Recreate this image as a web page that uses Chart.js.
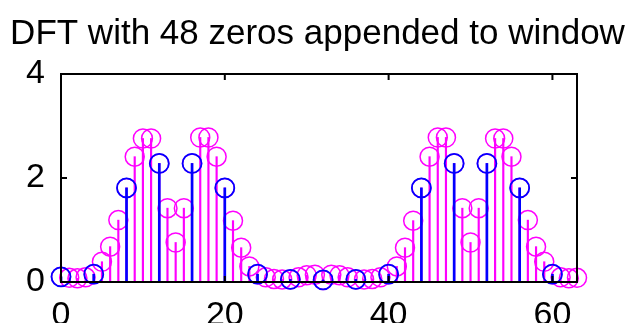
<!DOCTYPE html>
<html>
<head>
<meta charset="utf-8">
<script src="https://cdn.jsdelivr.net/npm/chart.js@4/dist/chart.umd.min.js"></script>
<style>
  html, body { margin: 0; padding: 0; background: #fff; }
  #grafico { display: block; }
</style>
</head>
<body>
<canvas id="grafico" width="635" height="323"></canvas>
<script>
// ==========================================
// DADOS
// ==========================================
const tituloGrafico = "DFT with 48 zeros appended to window";

// 16-point DFT (blue), every 4th bin
const indices16 = [0, 4, 8, 12, 16, 20, 24, 28, 32, 36, 40, 44, 48, 52, 56, 60];
const valores16 = [0.10, 0.15, 1.81, 2.28, 2.28, 1.81, 0.15, 0.05, 0.04, 0.05, 0.15, 1.81, 2.28, 2.28, 1.81, 0.15];

// 64-point DFT (magenta)
const indices64 = [
    0, 1, 2, 3, 4, 5, 6, 7, 8, 9, 10, 11, 12, 13, 14, 15,
    16, 17, 18, 19, 20, 21, 22, 23, 24, 25, 26, 27, 28, 29, 30, 31,
    32, 33, 34, 35, 36, 37, 38, 39, 40, 41, 42, 43, 44, 45, 46, 47,
    48, 49, 50, 51, 52, 53, 54, 55, 56, 57, 58, 59, 60, 61, 62, 63
];
const valores64 = [
    0.10, 0.08, 0.07, 0.09, 0.15, 0.39, 0.68, 1.19, 1.81, 2.41, 2.76, 2.76, 2.28, 1.42, 0.76, 1.42,
    2.28, 2.78, 2.78, 2.41, 1.81, 1.18, 0.66, 0.30, 0.15, 0.09, 0.06, 0.05, 0.05, 0.09, 0.13, 0.14,
    0.04, 0.14, 0.13, 0.09, 0.05, 0.05, 0.06, 0.09, 0.15, 0.30, 0.66, 1.18, 1.81, 2.41, 2.78, 2.78,
    2.28, 1.42, 0.76, 1.42, 2.28, 2.76, 2.76, 2.41, 1.81, 1.19, 0.68, 0.39, 0.15, 0.09, 0.07, 0.08
];

const ticksX = [0, 20, 40, 60];
const ticksY = [0, 2, 4];

// ==========================================
// EIXOS ESTILO MATLAB (caixa + ticks para dentro)
// ==========================================
const caixaEixos = {
    id: "caixaEixos",
    afterDatasetsDraw(chart) {
        const { ctx, chartArea: a, scales } = chart;
        ctx.save();
        ctx.strokeStyle = "#000";
        ctx.lineWidth = 2;
        ctx.strokeRect(a.left, a.top, a.right - a.left, a.bottom - a.top);
        ctx.beginPath();
        ticksX.forEach(function (v) {
            const px = scales.x.getPixelForValue(v);
            ctx.moveTo(px, a.bottom); ctx.lineTo(px, a.bottom - 6);
            ctx.moveTo(px, a.top); ctx.lineTo(px, a.top + 6);
        });
        ticksY.forEach(function (v) {
            const py = scales.y.getPixelForValue(v);
            ctx.moveTo(a.left, py); ctx.lineTo(a.left + 6, py);
            ctx.moveTo(a.right, py); ctx.lineTo(a.right - 6, py);
        });
        ctx.stroke();
        ctx.restore();
    }
};

function pontos(xs, ys) {
    return xs.map(function (x, i) { return { x: x, y: ys[i] }; });
}

const familia = "'Liberation Sans', Arial, sans-serif";

new Chart(document.getElementById("grafico"), {
    type: "bar",
    data: {
        datasets: [
            {
                type: "bar", data: pontos(indices64, valores64),
                backgroundColor: "#ff00ff", barThickness: 1.5, grouped: false, order: 4
            },
            {
                type: "scatter", data: pontos(indices64, valores64),
                borderColor: "#ff00ff", backgroundColor: "rgba(0,0,0,0)",
                pointRadius: 9.5, pointBorderWidth: 1.5, pointHoverRadius: 9.5,
                showLine: false, clip: false, order: 3
            },
            {
                type: "bar", data: pontos(indices16, valores16),
                backgroundColor: "#0000ff", barThickness: 2, grouped: false, order: 2
            },
            {
                type: "scatter", data: pontos(indices16, valores16),
                borderColor: "#0000ff", backgroundColor: "rgba(0,0,0,0)",
                pointRadius: 9.5, pointBorderWidth: 1.8, pointHoverRadius: 9.5,
                showLine: false, clip: false, order: 1
            }
        ]
    },
    options: {
        responsive: false,
        animation: false,
        events: [],
        layout: { padding: 0 },
        plugins: {
            legend: { display: false },
            tooltip: { enabled: false },
            title: {
                display: true,
                text: tituloGrafico,
                color: "#000",
                font: { family: familia, size: 35, weight: "normal" },
                padding: { top: 13, bottom: 19 }
            }
        },
        scales: {
            x: {
                type: "linear",
                min: 0, max: 63,
                offset: false,
                grid: { display: false },
                border: { display: false },
                ticks: { color: "#000", font: { family: familia, size: 34 }, padding: 5, maxRotation: 0 },
                afterBuildTicks: function (s) { s.ticks = ticksX.map(function (v) { return { value: v }; }); },
                afterFit: function (s) { s.height = 41; }
            },
            y: {
                min: 0, max: 4,
                grid: { display: false },
                border: { display: false },
                ticks: { color: "#000", font: { family: familia, size: 34 }, padding: 8 },
                afterBuildTicks: function (s) { s.ticks = ticksY.map(function (v) { return { value: v }; }); },
                afterFit: function (s) { s.width = 61; }
            },
            // eixo vazio só para reservar a margem da direita
            yDireita: {
                position: "right",
                min: 0, max: 4,
                grid: { display: false },
                border: { display: false },
                ticks: { display: false },
                afterFit: function (s) { s.width = 58; }
            }
        }
    },
    plugins: [caixaEixos]
});
</script>
</body>
</html>
